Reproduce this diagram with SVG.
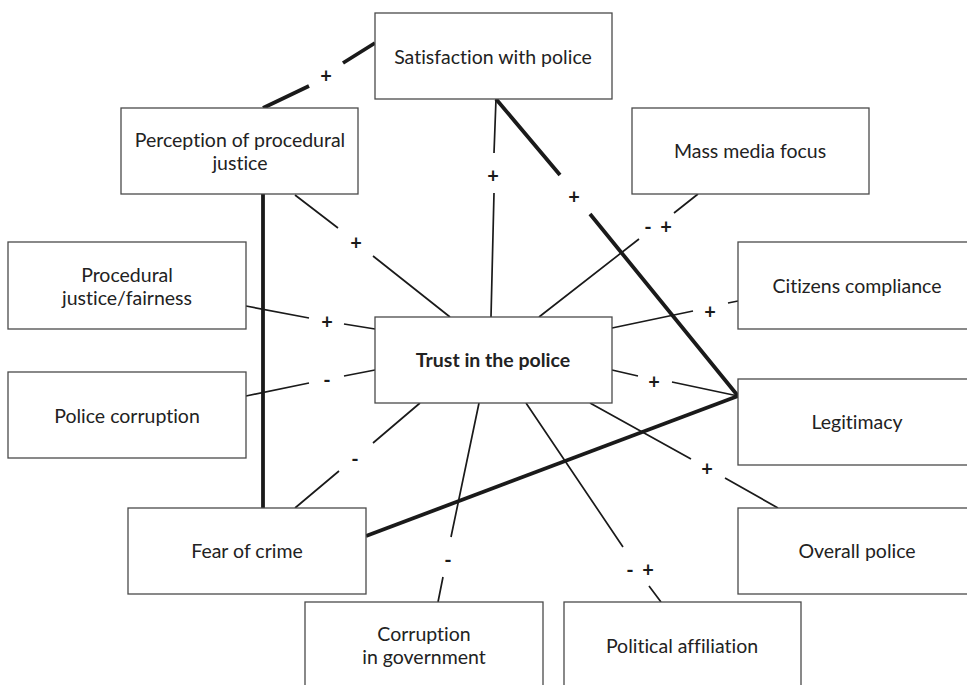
<svg xmlns="http://www.w3.org/2000/svg" width="967" height="685" viewBox="0 0 967 685">
<style>
.box{fill:#fff;stroke:#4a4a4a;stroke-width:1.3}
.t{font-family:Lato,"Liberation Sans",sans-serif;font-size:19.5px;fill:#222;text-anchor:middle;font-variant-ligatures:none}
.b{font-weight:bold}
.thin{stroke:#1a1a1a;stroke-width:1.7;fill:none}
.thick{stroke:#1a1a1a;stroke-width:3.8;fill:none}
.s{font-family:Lato,"Liberation Sans",sans-serif;font-size:20px;font-weight:bold;fill:#1a1a1a;text-anchor:middle}
</style>
<rect width="967" height="685" fill="#fff"/>
<g id="connectors">
<path class="thick" d="M375,43 L343,63 M309,86 L263,108"/>
<path class="thick" d="M496,99 L560,175 M590,214 L738,396"/>
<path class="thick" d="M263,194 L263,508"/>
<path class="thick" d="M366,536 L738,396"/>
<path class="thin" d="M295,195 L338,228 M373,256 L450,317"/>
<path class="thin" d="M496,99 L494,153 M494,193 L491,317"/>
<path class="thin" d="M698,194 L674,213 M639,239 L539,317"/>
<path class="thin" d="M246,306 L309,318 M344,324 L375,329"/>
<path class="thin" d="M246,396 L309,383 M344,376 L375,370"/>
<path class="thin" d="M295,508 L339,471 M373,443 L420,403"/>
<path class="thin" d="M438,602 L443,577 M451,537 L479,403"/>
<path class="thin" d="M661,602 L649,586 M623,547 L526,403"/>
<path class="thin" d="M778,508 L725,478 M691,459 L590,403"/>
<path class="thin" d="M612,328 L693,311 M728,303 L738,301"/>
<path class="thin" d="M612,370 L638,376 M672,382 L738,396"/>
<text class="s" x="326" y="83">+</text>
<text class="s" x="574" y="204">+</text>
<text class="s" x="356" y="250">+</text>
<text class="s" x="493" y="183">+</text>
<text class="s"><tspan x="648" y="234">-</tspan><tspan x="666" y="234">+</tspan></text>
<text class="s" x="327" y="329">+</text>
<text class="s" x="327" y="387">-</text>
<text class="s" x="355" y="466">-</text>
<text class="s" x="448" y="567">-</text>
<text class="s"><tspan x="630" y="577">-</tspan><tspan x="648" y="577">+</tspan></text>
<text class="s" x="707" y="476">+</text>
<text class="s" x="710" y="319">+</text>
<text class="s" x="654" y="389">+</text>
</g>
<g id="satisfaction"><rect class="box" x="375" y="13" width="237" height="86"/><text class="t" x="493" y="64">Satisfaction with police</text></g>
<g id="perception"><rect class="box" x="121" y="108" width="237" height="86"/><text class="t" x="240" y="147">Perception of procedural</text><text class="t" x="240" y="170">justice</text></g>
<g id="massmedia"><rect class="box" x="632" y="108" width="237" height="86"/><text class="t" x="750" y="158">Mass media focus</text></g>
<g id="procedural"><rect class="box" x="8" y="242" width="238" height="87"/><text class="t" x="127" y="282">Procedural</text><text class="t" x="127" y="305">justice/fairness</text></g>
<g id="corruption"><rect class="box" x="8" y="372" width="238" height="86"/><text class="t" x="127" y="423">Police corruption</text></g>
<g id="trust"><rect class="box" x="375" y="317" width="237" height="86"/><text class="t b" x="493" y="367">Trust in the police</text></g>
<g id="compliance"><rect class="box" x="738" y="242" width="240" height="87"/><text class="t" x="857" y="293">Citizens compliance</text></g>
<g id="legitimacy"><rect class="box" x="738" y="379" width="240" height="86"/><text class="t" x="857" y="429">Legitimacy</text></g>
<g id="overall"><rect class="box" x="738" y="508" width="240" height="86"/><text class="t" x="857" y="558">Overall police</text></g>
<g id="fear"><rect class="box" x="128" y="508" width="238" height="86"/><text class="t" x="247" y="558">Fear of crime</text></g>
<g id="govcorruption"><rect class="box" x="305" y="602" width="238" height="90"/><text class="t" x="424" y="641">Corruption</text><text class="t" x="424" y="664">in government</text></g>
<g id="political"><rect class="box" x="564" y="602" width="237" height="90"/><text class="t" x="682" y="653">Political affiliation</text></g>
</svg>
